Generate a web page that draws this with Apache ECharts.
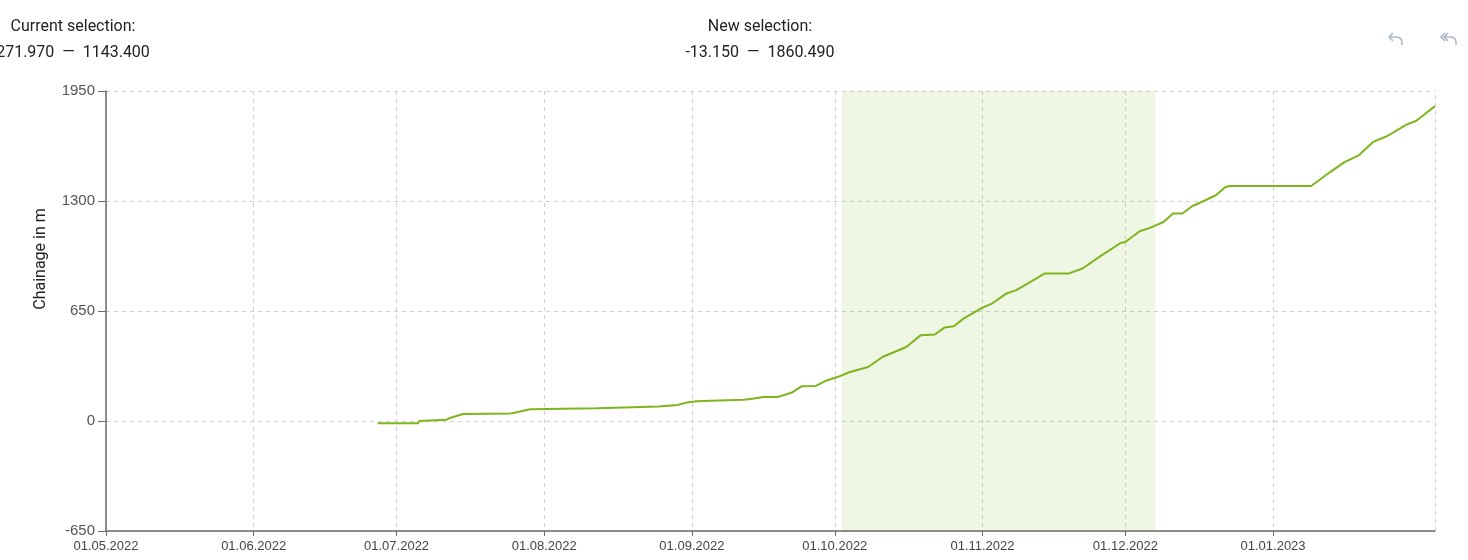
<!DOCTYPE html>
<html>
<head>
<meta charset="utf-8">
<script src="https://cdn.jsdelivr.net/npm/echarts@6/dist/echarts.min.js"></script>
<style>
html,body{margin:0;padding:0;background:#fff;}
#chart{width:1468px;height:560px;}
</style>
</head>
<body>
<div id="chart"></div>
<script>
// ---- data ----
const dates = [
  '2022-06-27','2022-07-05 12:00','2022-07-05 18:00','2022-07-11 12:00','2022-07-12','2022-07-15',
  '2022-07-25','2022-07-26','2022-07-29','2022-08-12','2022-08-25','2022-08-29','2022-08-31',
  '2022-09-02','2022-09-05','2022-09-12','2022-09-14','2022-09-16','2022-09-19','2022-09-22',
  '2022-09-24','2022-09-27','2022-09-29','2022-10-02','2022-10-04','2022-10-08','2022-10-11',
  '2022-10-16','2022-10-19','2022-10-22','2022-10-24','2022-10-26','2022-10-28','2022-11-01',
  '2022-11-03','2022-11-06','2022-11-08','2022-11-11','2022-11-14','2022-11-19','2022-11-22',
  '2022-11-26','2022-11-30','2022-12-01','2022-12-04','2022-12-06','2022-12-09','2022-12-11',
  '2022-12-13','2022-12-15','2022-12-17','2022-12-20','2022-12-22','2022-12-23','2023-01-09',
  '2023-01-13','2023-01-16','2023-01-19','2023-01-22','2023-01-25','2023-01-29','2023-01-31',
  '2023-02-04'
];
const chainage = [
  -13.15,-13.15,0,8,16,41,
  45,50,69,75,85,95,110,
  116,120,126,133,142,142,168,
  205,207,236,264,288,319,378,
  437,506,511,552,560,605,670,
  694,753,772,821,871,871,901,
  979,1052,1058,1121,1140,1176,1226,
  1226,1269,1294,1334,1383,1389,1389,
  1471,1530,1570,1649,1684,1751,1773,
  1860.49
];
const monthTicks = ['2022-05-01','2022-06-01','2022-07-01','2022-08-01','2022-09-01',
                    '2022-10-01','2022-11-01','2022-12-01','2023-01-01'];
const yTicks = [-650, 0, 650, 1300, 1950];
const xRange = ['2022-05-01', '2023-02-04'];
const currentSelection = ['271.970', '1143.400'];
const newSelection = ['-13.150', '1860.490'];
const selectionDates = ['2022-10-02 12:00', '2022-12-07 07:00'];

const toTs = s => echarts.time.parse(s).getTime();
const seriesData = dates.map((d, i) => [toTs(d), chainage[i]]);
const tickValues = monthTicks.map(toTs);

const chart = echarts.init(document.getElementById('chart'), null, {renderer: 'canvas'});
const hdrFont = 'Roboto, "Liberation Sans", Arial, sans-serif';
const axFont = '"Liberation Sans", Arial, sans-serif';
const iconColor = '#aeb8c5';
const iconStyle = {stroke: iconColor, lineWidth: 1.6, fill: null};
const gridLine = {color: '#d0d0d0', type: [4, 4], width: 1};

const option = {
  animation: false,
  backgroundColor: '#ffffff',
  grid: {left: 106, right: 33, top: 91, bottom: 29, containLabel: false},
  xAxis: {
    type: 'value',
    min: toTs(xRange[0]),
    max: toTs(xRange[1]),
    axisLine: {show: true, onZero: false, lineStyle: {color: '#6a6a6a', width: 1.5}},
    axisTick: {show: true, length: 5, customValues: tickValues, lineStyle: {color: '#6a6a6a'}},
    axisLabel: {
      customValues: tickValues,
      formatter: v => echarts.time.format(v, '{dd}.{MM}.{yyyy}', false),
      color: '#444', fontSize: 13, fontFamily: axFont, margin: 9,
      showMinLabel: true, hideOverlap: false
    },
    splitLine: {show: true, lineStyle: gridLine}
  },
  yAxis: {
    type: 'value',
    min: yTicks[0],
    max: yTicks[yTicks.length - 1],
    interval: yTicks[1] - yTicks[0],
    axisLine: {show: true, lineStyle: {color: '#6a6a6a', width: 1.5}},
    axisTick: {show: true, length: 8, lineStyle: {color: '#6a6a6a'}},
    axisLabel: {color: '#555', fontSize: 15, fontFamily: axFont, margin: 11, formatter: v => String(v)},
    splitLine: {show: true, lineStyle: gridLine}
  },
  series: [{
    type: 'line',
    data: seriesData,
    showSymbol: false,
    symbol: 'none',
    lineStyle: {color: '#7db51d', width: 2},
    itemStyle: {color: '#7db51d'},
    z: 3,
    markArea: {
      silent: true,
      itemStyle: {color: 'rgba(130,185,50,0.13)'},
      data: [[{xAxis: toTs(selectionDates[0])}, {xAxis: toTs(selectionDates[1])}]]
    },
    markLine: {
      silent: true,
      symbol: ['none', 'none'],
      label: {show: false},
      lineStyle: gridLine,
      data: [{xAxis: toTs(xRange[1])}]
    }
  }],
  graphic: [
    {type: 'text', x: 73, y: 27, style: {text: 'Current selection:', font: '16px ' + hdrFont, fill: '#222', align: 'center', verticalAlign: 'middle'}},
    {type: 'text', x: 73, y: 53, style: {text: currentSelection[0] + '  —  ' + currentSelection[1], font: '16px ' + hdrFont, fill: '#222', align: 'center', verticalAlign: 'middle'}},
    {type: 'text', x: 760, y: 27, style: {text: 'New selection:', font: '16px ' + hdrFont, fill: '#222', align: 'center', verticalAlign: 'middle'}},
    {type: 'text', x: 760, y: 53, style: {text: newSelection[0] + '  —  ' + newSelection[1], font: '16px ' + hdrFont, fill: '#222', align: 'center', verticalAlign: 'middle'}},
    {type: 'text', x: 41, y: 259, rotation: Math.PI / 2, style: {text: 'Chainage in m', font: '16px ' + hdrFont, fill: '#222', align: 'center', verticalAlign: 'middle'}},
    {type: 'polyline', x: 1388, y: 33, shape: {points: [[5, 0], [1, 4], [5, 8]]}, style: iconStyle},
    {type: 'polyline', x: 1388, y: 33, shape: {points: [[1, 4], [9, 4], [11.5, 4.7], [13.3, 6.5], [14, 9], [14, 12]]}, style: iconStyle},
    {type: 'polyline', x: 1440, y: 33, shape: {points: [[8, 0], [4, 4], [8, 8]]}, style: iconStyle},
    {type: 'polyline', x: 1440, y: 33, shape: {points: [[5, 0], [1, 4], [5, 8]]}, style: iconStyle},
    {type: 'polyline', x: 1440, y: 33, shape: {points: [[4, 4], [11, 4], [13.5, 4.7], [15.3, 6.5], [16, 9], [16, 12]]}, style: iconStyle}
  ]
};
chart.setOption(option);
</script>
</body>
</html>
